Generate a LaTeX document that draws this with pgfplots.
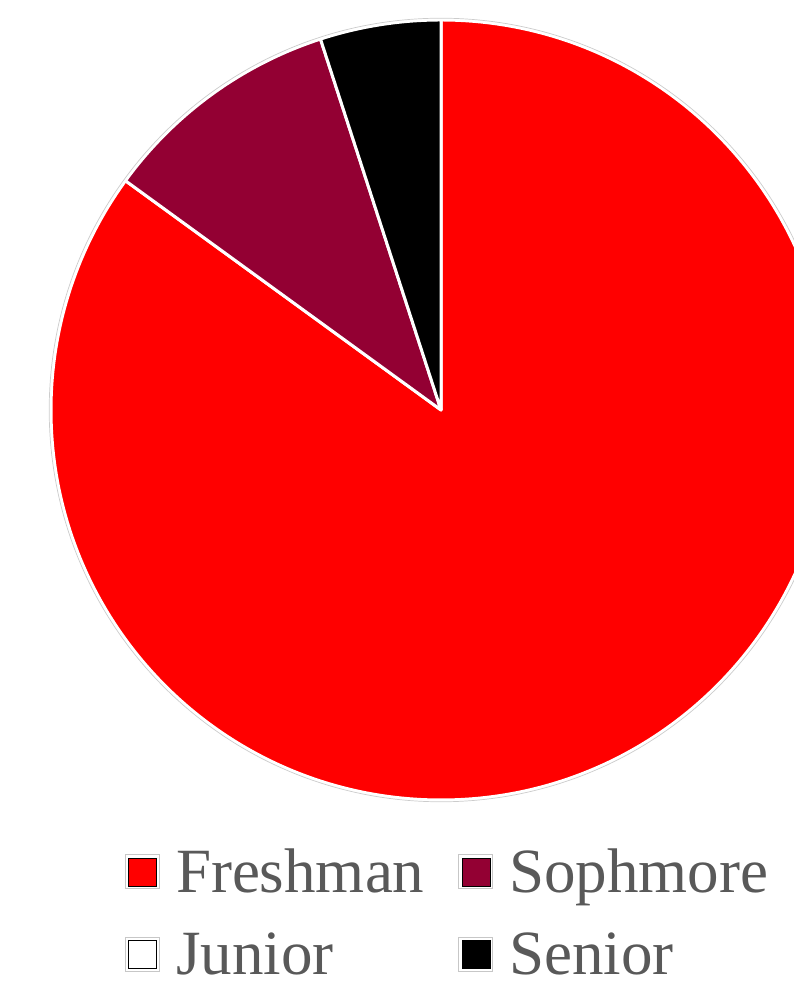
\documentclass[border=0pt]{standalone}
\usepackage{pgfplots}
\usepackage{pgfplotstable}
\pgfplotsset{compat=1.18}
\usepackage{fontspec}
\setmainfont{Liberation Serif}
\definecolor{soph}{HTML}{930033}
\definecolor{legtext}{HTML}{595959}
\pgfplotstableread{
label value
Freshman 17
Sophmore 2
Junior 0
Senior 1
}\piedata
\pgfplotstablegetelem{0}{value}\of\piedata \let\vA\pgfplotsretval
\pgfplotstablegetelem{1}{value}\of\piedata \let\vB\pgfplotsretval
\pgfplotstablegetelem{2}{value}\of\piedata \let\vC\pgfplotsretval
\pgfplotstablegetelem{3}{value}\of\piedata \let\vD\pgfplotsretval
\pgfmathsetmacro\total{\vA+\vB+\vC+\vD}
\pgfmathsetmacro\aA{90}
\pgfmathsetmacro\aB{\aA-360*\vA/\total}
\pgfmathsetmacro\aC{\aB-360*\vB/\total}
\pgfmathsetmacro\aD{\aC-360*\vC/\total}
\pgfmathsetmacro\aE{\aD-360*\vD/\total}
\begin{document}
\begin{tikzpicture}
\begin{axis}[
  x=1pt, y=1pt,
  xmin=0, xmax=794, ymin=0, ymax=992,
  hide axis, clip=true,
  legend columns=2,
  legend cell align=left,
  legend image code/.code={%
    \draw[black!22, line width=0.8pt, fill=white] (0pt,-17pt) rectangle (34pt,17pt);
    \fill[#1] (3pt,-14pt) rectangle (31pt,14pt);
  },
  legend style={
    at={(axis cs:122,148)}, anchor=north west,
    draw=none, fill=none,
    font=\fontsize{63}{70}\selectfont, text=legtext,
    nodes={inner xsep=16pt, inner ysep=3pt},
    /tikz/every even column/.append style={column sep=18pt},
    row sep=32pt,
  },
]
\addplot[draw=none, forget plot] coordinates {(0,0) (794,992)};
% sectors
\draw[fill=red, draw=white, line width=3pt, line join=round]
  (axis cs:441,582) -- ++(\aA:390pt) arc[start angle=\aA, end angle=\aB, radius=390pt] -- cycle;
\draw[fill=soph, draw=white, line width=3pt, line join=round]
  (axis cs:441,582) -- ++(\aB:390pt) arc[start angle=\aB, end angle=\aC, radius=390pt] -- cycle;
\draw[fill=black, draw=white, line width=3pt, line join=round]
  (axis cs:441,582) -- ++(\aD:390pt) arc[start angle=\aD, end angle=\aE, radius=390pt] -- cycle;
\draw[black!20, line width=0.7pt] (axis cs:441,582) circle[radius=391.8pt];
\addlegendimage{fill=red}
\addlegendentry{Freshman}
\addlegendimage{fill=soph}
\addlegendentry{Sophmore}
\addlegendimage{fill=white}
\addlegendentry{Junior}
\addlegendimage{fill=black}
\addlegendentry{Senior}
\end{axis}
\end{tikzpicture}
\end{document}
